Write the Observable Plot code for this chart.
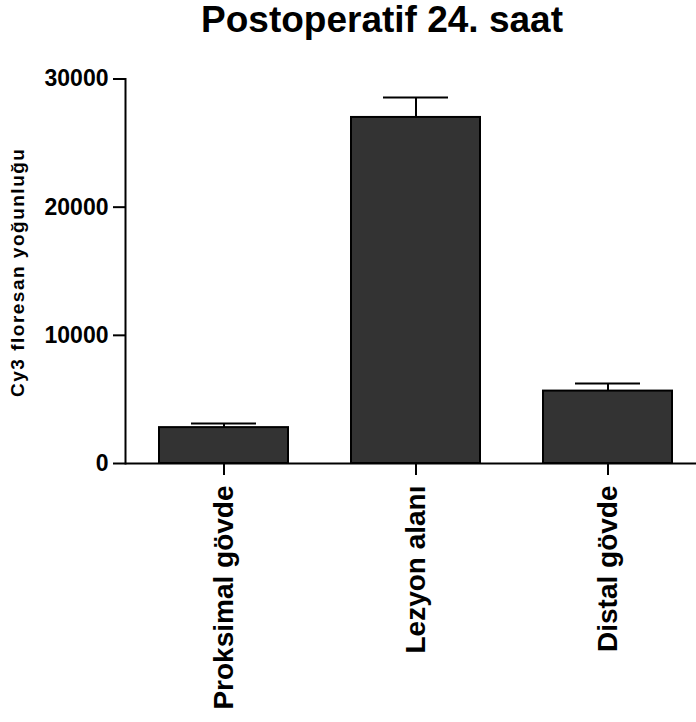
<!DOCTYPE html>
<html><head><meta charset="utf-8">
<script src="https://cdn.jsdelivr.net/npm/d3@7"></script>
<script src="https://cdn.jsdelivr.net/npm/@observablehq/plot@0.6"></script>
<style>
body{margin:0;background:#fff;font-family:"Liberation Sans",Arial,sans-serif;}
#title{font-size:37px;font-weight:bold;line-height:40px;height:40px;text-align:center;padding-left:68px;box-sizing:border-box;width:696px;color:#000;}
</style></head><body>
<div id="title">Postoperatif 24. saat</div>
<div id="chart"></div>
<script>
const categories = ["Proksimal gövde", "Lezyon alanı", "Distal gövde"];
const means = [2800, 27000, 5650];
const sems = [320, 1550, 600];
const yTicks = [0, 10000, 20000, 30000];
const yLabel = "Cy3 floresan yoğunluğu";

const data = categories.map((c, i) => ({cat: c, mean: means[i], top: means[i] + sems[i]}));

const plot = Plot.plot({
  width: 696, height: 682,
  marginTop: 38.5, marginBottom: 259, marginLeft: 125, marginRight: 0,
  style: {fontFamily: "Liberation Sans, Arial, sans-serif", fontWeight: "bold", color: "#000", background: "#fff", overflow: "visible"},
  x: {domain: categories, range: [125, 705], paddingInner: 0.33, paddingOuter: 0.17},
  y: {domain: [0, 30000]},
  marks: [
    Plot.barY(data, {x: "cat", y: "mean", fill: "#333333", stroke: "#000", strokeWidth: 2}),
    Plot.ruleX(data, {x: "cat", y1: "mean", y2: "top", stroke: "#000", strokeWidth: 2}),
    Plot.tickY(data, {x: "cat", y: "top", stroke: "#000", strokeWidth: 2, insetLeft: 32, insetRight: 32}),
    Plot.ruleY([0], {stroke: "#000", strokeWidth: 2}),
    Plot.frame({anchor: "left", stroke: "#000", strokeWidth: 2}),
    Plot.axisY({ticks: yTicks, tickSize: 12, tickPadding: 5, tickFormat: d => String(d), fontSize: 23, label: null, strokeWidth: 2}),
    Plot.axisX({tickSize: 12, tickPadding: 10, tickRotate: -90, fontSize: 28, label: null, strokeWidth: 2}),
    Plot.text([yLabel], {frameAnchor: "left", textAnchor: "middle", lineAnchor: "middle", rotate: -90, dx: -108, dy: 1, fontSize: 19, fontWeight: "bold", fill: "#000"})
  ]
});
d3.select(plot).selectAll('g[aria-label="text"] text').style("letter-spacing", "1.5px");
document.getElementById("chart").appendChild(plot);
</script>
</body></html>
